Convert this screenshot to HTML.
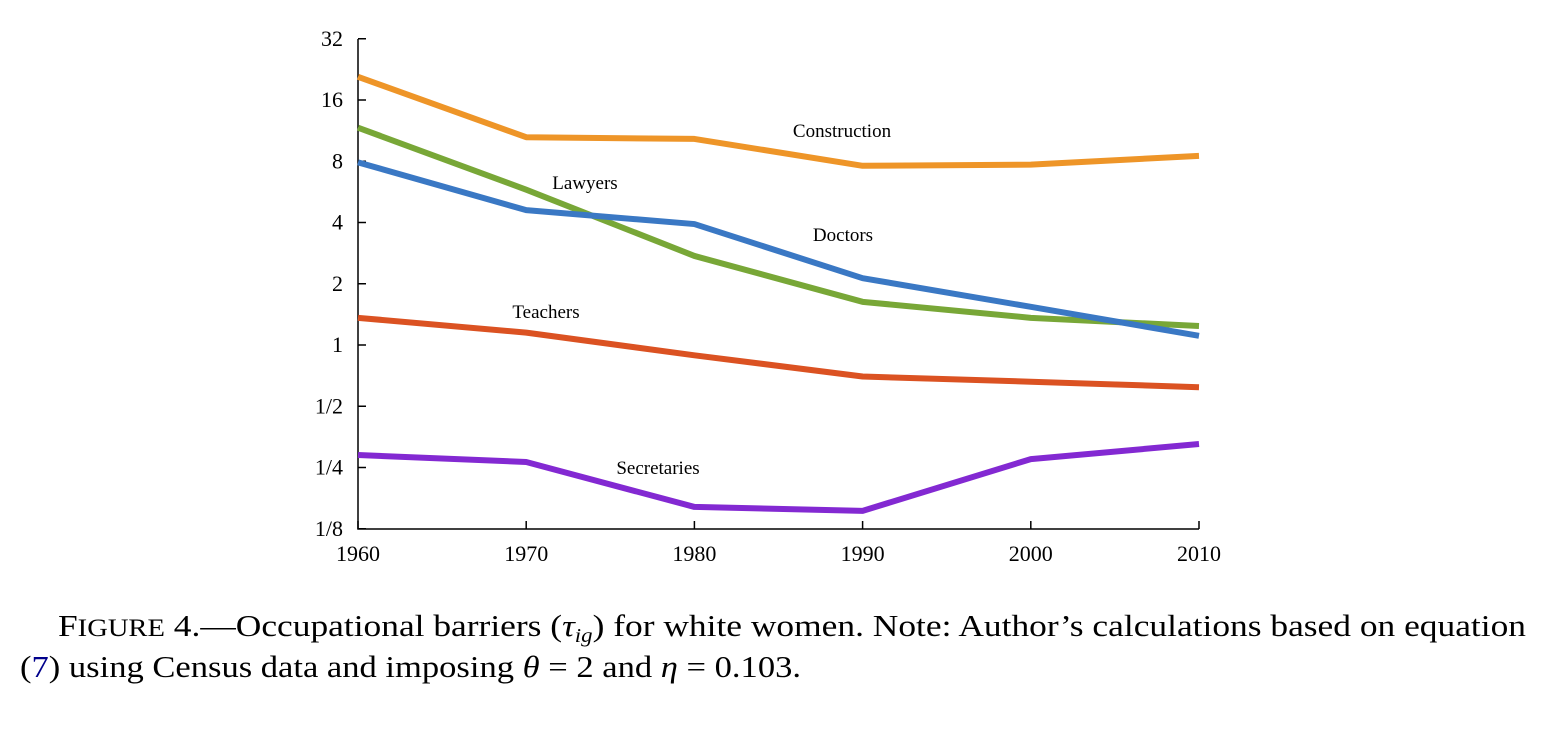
<!DOCTYPE html>
<html><head><meta charset="utf-8"><style>
body{margin:0;background:#fff;width:1555px;height:753px;overflow:hidden;font-family:"Liberation Serif",serif}
svg{position:absolute;left:0;top:0}
</style></head><body>
<svg id="chart" width="1555" height="753">
<text x="58" y="636" font-size="31" font-family="Liberation Serif" textLength="1468" lengthAdjust="spacingAndGlyphs">F<tspan font-size="25">IGURE</tspan> 4.—Occupational barriers (<tspan font-style="italic">τ</tspan><tspan font-style="italic" font-size="20" dy="6">ig</tspan><tspan dy="-6">) for white women. Note: Author’s calculations based on equation</tspan></text>
<text x="20" y="677" font-size="31" font-family="Liberation Serif" textLength="781" lengthAdjust="spacingAndGlyphs">(<tspan fill="#00008b">7</tspan>) using Census data and imposing <tspan font-style="italic">θ</tspan> = 2 and <tspan font-style="italic">η</tspan> = 0.103.</text>
</svg>
<script>
const years=[1960,1970,1980,1990,2000,2010];
const construction=[20.8,10.5,10.3,7.6,7.7,8.5];
const lawyers=[11.7,5.8,2.74,1.63,1.36,1.24];
const doctors=[7.9,4.6,3.93,2.13,1.54,1.11];
const teachers=[1.36,1.15,0.89,0.70,0.66,0.62];
const secretaries=[0.288,0.266,0.16,0.153,0.275,0.326];
const yTicks=[32,16,8,4,2,1,0.5,0.25,0.125];
const yTickLabels=["32","16","8","4","2","1","1/2","1/4","1/8"];
const NS="http://www.w3.org/2000/svg";
const svg=document.getElementById('chart');
const x=v=>358+(v-1960)*(1199-358)/50;
const y=v=>345-Math.log2(v)*61.25;
function el(t,a){const e=document.createElementNS(NS,t);for(const k in a)e.setAttribute(k,a[k]);svg.appendChild(e);return e;}
const ax=el('path',{d:'M358,39 V529 H1199',fill:'none',stroke:'#000','stroke-width':1.5});


yTicks.forEach((t,i)=>{
 const l=el('line',{x1:358,x2:366,y1:y(t),y2:y(t),stroke:'#000','stroke-width':1.5});
 
 
 const tx=el('text',{x:343,y:y(t)+7,'text-anchor':'end','font-size':22});
 tx.textContent=yTickLabels[i];
 
 
});
years.forEach(yr=>{
 const l=el('line',{x1:x(yr),x2:x(yr),y1:529,y2:521,stroke:'#000','stroke-width':1.5});
 
 
 const tx=el('text',{x:x(yr),y:561,'text-anchor':'middle','font-size':22});
 tx.textContent=yr;
 
 
});
const series=[
 ['construction',construction,'#ee9528','Construction',842,137],
 ['lawyers',lawyers,'#78a737','Lawyers',585,189],
 ['doctors',doctors,'#3a78c4','Doctors',843,241],
 ['teachers',teachers,'#db5222','Teachers',546,318],
 ['secretaries',secretaries,'#8329d2','Secretaries',658,474]];
series.forEach(s=>{
 const p=el('polyline',{points:years.map((yr,i)=>x(yr)+','+y(s[1][i])).join(' '),fill:'none',stroke:s[2],'stroke-width':6,'stroke-linejoin':'round'});
 
 
 const t=el('text',{x:s[4],y:s[5],'text-anchor':'middle','font-size':19});
 t.textContent=s[3];
 
 
});
</script>
</body></html>
